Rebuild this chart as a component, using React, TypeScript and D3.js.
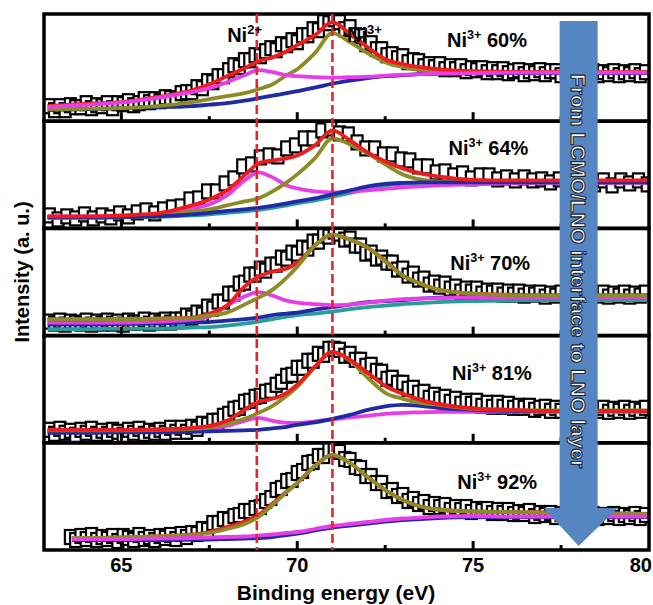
import React from "react";
import * as d3 from "d3";

// ---------- data ----------
const PANEL_LABELS = ["60%", "64%", "70%", "81%", "92%"];
const ENERGY_DOMAIN: [number, number] = [62.8, 80];
const INTENSITY_DOMAIN: [number, number] = [0, 107.2];
const MAJOR_TICKS = [65, 70, 75];
const MINOR_TICKS = [67.5, 72.5, 77.5];
const TICK_LABELS = ["65", "70", "75", "80"];
const TICK_LABEL_VALUES = [65, 70, 75, 80];
const PEAK_LINES = [68.85, 71.0];

// measured spectra (evenly sampled, start energy + step)
const DATA_START = [62.95, 62.95, 62.95, 62.95, 63.55];
const DATA_STEP = [0.15, 0.25, 0.15, 0.15, 0.15];

const P1_DATA = [15,11,15,11,16,14,14,18,13,16, 15,18,13,18,17,20,16,18,22,19, 22,20,24,23,21,28,29,29,34,33, 40,39,45,45,51,56,54,61,61,66, 65,70,73,71,77,76,81,79,86,86, 92,91,99,98,102,99,92,94,86,85, 77,78,72,72,66,67,63,65,59,61, 60,55,57,54,57,52,55,52,55,50, 53,51,53,49,52,49,52,48,50,51, 47,50,48,51,47,50,50,46,49,47, 50,46,49,50,46,49,47,50,46,49,47,50,46,49];
const P2_DATA = [13,9,12,10,14,10,13,11,15,12, 16,18,15,19,21,22,29,30,37,37, 45,50,62,64,71,73,72,80,83,90, 90,98,100,95,94,86,80,80,74,74, 69,68,62,62,56,57,53,55,50,53, 53,49,51,48,51,48,49,46,49,44, 48,49,44,48,43,48,45,48,44];
const P3_DATA = [14,12,15,11,14,13,12,15,11,14, 12,15,12,14,11,15,13,13,16,12, 15,13,16,13,16,16,20,18,23,21, 29,27,34,34,42,42,52,53,61,61, 67,65,71,71,78,77,83,82,88,87, 94,94,100,99,104,102,96,97,90,90, 82,83,77,78,73,73,66,67,60,62, 56,57,51,53,49,52,47,49,44,47, 44,47,42,45,43,45,41,44,41,44, 40,43,41,43,39,42,40,43,39,42, 40,43,39,42,40,43,39,42,40,43,39,42,40,43];
const P4_DATA = [13,9,14,10,12,8,13,10,14,9, 12,9,13,11,8,13,10,14,9,12, 10,13,10,15,11,15,11,16,14,19, 18,22,22,27,29,34,35,41,42,46, 47,51,52,58,61,67,68,75,75,82, 82,89,88,94,94,93,87,89,83,83, 77,78,72,71,64,65,60,60,54,55, 50,51,45,48,44,46,41,44,39,42, 39,42,37,40,36,40,36,39,35,37, 35,37,33,35,36,32,35,32,35,31, 34,35,31,34,32,35,31,34,32,35,31,34,32,35];
const P5_DATA = [13,10,14,11,15,10,13,11,14,9, 14,12,10,15,11,13,10,14,12,15, 11,16,13,17,16,21,20,27,27,31, 30,34,35,39,39,42,43,49,52,60, 62,69,70,77,79,87,88,94,94,100, 100,98,91,90,83,82,74,74,67,67, 59,60,54,55,49,51,46,48,43,46, 43,45,40,43,40,43,38,41,39,41, 37,40,37,40,36,38,36,39,34,37, 35,37,33,36,33,36,32,35,33,36, 32,35,33,36,32,35,33,36,32,35];

// fitted components
const FIT_E = [62.9, 64, 65, 66, 67, 67.5, 68, 68.5, 68.9, 69.3, 69.7, 70, 70.5, 71, 71.5, 72, 72.5, 73, 73.5, 74, 75, 76, 77, 78, 79, 80];
const FIT_E5 = [63.6, 64, 65, 66, 67, 67.5, 68, 68.5, 68.9, 69.3, 69.7, 70, 70.5, 71, 71.5, 72, 72.5, 73, 73.5, 74, 75, 76, 77, 78, 79, 80];

const RED1 = [15, 17.5, 19, 24, 31, 37, 45, 53, 60, 64, 70, 76, 86, 99, 87, 74, 62, 57, 54, 52, 50, 49.5, 49, 49, 49, 49];
const MAG1 = [14, 16.5, 18.5, 23, 29, 33, 39, 46, 51, 49, 46, 45, 44, 43.5, 44, 44.5, 45.5, 46.5, 47, 47.5, 48, 48.5, 48.5, 48.5, 48.5, 48.5];
const OLV1 = [12, 12.5, 13, 15, 19, 22, 25, 28, 32, 37, 46, 52, 68, 88, 79, 68, 59, 54, 51, 50, 49, 49, 49, 49, 49, 49];
const BLU1 = [11, 12, 13, 14, 15, 16.5, 18, 20.5, 23, 25.5, 28, 30, 33.5, 37.5, 40.5, 43, 45, 46, 47, 47.5, 48, 48, 48, 48, 48, 48];

const RED2 = [12, 12, 13, 15, 23, 29, 38, 53, 65, 68, 70, 73, 83, 98, 88, 76, 67, 60, 55, 52, 48.5, 48, 48, 48, 48, 48];
const MAG2 = [12, 12, 12.5, 13.5, 20, 24, 33, 48, 56, 51, 43, 40, 37, 36, 37, 38, 39.5, 41, 42, 43, 44, 45, 45.5, 45.5, 45.5, 45.5];
const OLV2 = [11, 11, 11.5, 12, 17, 19, 23, 27, 30, 37, 46, 54, 70, 90, 84, 75, 64, 54, 49, 47, 47, 47, 47, 47, 47, 47];
const BLU2 = [11, 11, 11.5, 12, 14, 15.5, 17.5, 19, 20.5, 22.5, 25, 27, 30, 34, 38, 42, 44.5, 45.5, 46, 46, 46, 46, 46, 46, 46, 46];
const TEA2 = [10.5, 10.5, 11, 11.5, 13, 14, 15.5, 17, 18.5, 20.5, 23, 25, 28, 31.5, 35.5, 39.5, 43, 44.5, 45.5, 45.5, 45.5, 45.5, 45.5, 45.5, 45.5, 45.5];

const RED3 = [16, 16, 16.5, 17, 18, 22, 30, 49, 59, 64, 67, 73, 90, 101, 96, 88, 75, 60, 52, 46, 42, 41, 40.5, 40.5, 40.5, 40.5];
const OLV3 = [16.5, 16.5, 16.5, 17, 17.5, 20, 23, 31, 38, 46, 58, 69, 90, 101, 96, 88, 74, 60, 52, 46, 42, 40.5, 40, 40, 40, 40];
const MAG3 = [13, 13, 13, 14, 16, 19, 30, 39, 43.5, 40, 35, 33, 31.5, 30.5, 31, 33, 35, 36.5, 37, 37.5, 38.5, 38.5, 38.5, 38.5, 38.5, 38.5];
const BLU3 = [11, 11, 11.5, 12, 13, 13.5, 15, 16.5, 18, 20.5, 22, 23, 26, 28.5, 31, 33.5, 34.5, 35.5, 37, 38, 38.5, 38.5, 38.5, 38.5, 38.5, 38.5];
const TEA3 = [6.5, 6.5, 7, 7, 8, 8.5, 10, 12, 14, 16.5, 19, 20.5, 22, 24, 26.5, 28.5, 30, 31.5, 32.5, 33.5, 34.5, 35, 35.5, 35.5, 35.5, 35.5];

const RED4 = [13, 13, 13, 13.5, 15, 17, 22, 33, 41, 44, 50, 58, 76, 91, 83, 70, 57, 49, 43, 39, 34.5, 33, 32, 32, 32, 32];
const OLV4 = [12.5, 12.5, 12.5, 13, 14, 15.5, 19, 24, 30, 37, 47, 56, 76, 91, 82, 65, 50, 44, 40, 38, 34, 33, 32.5, 32.5, 32.5, 32.5];
const MAG4 = [12, 12, 12, 12, 13, 14, 17, 22, 25, 22, 20, 20, 21.5, 23.5, 25.5, 27, 29, 30, 30.5, 31, 31, 31, 31, 31, 31, 31];
const BLU4 = [10, 10, 10.5, 10.5, 11, 11.5, 12, 12.5, 13, 14.5, 16, 18, 20.5, 24, 28, 33, 36.5, 38, 37, 35, 33, 32, 32, 32, 32, 32];

const RED5 = [12, 12, 12.5, 13.5, 15.5, 18, 23, 28.5, 35, 46.5, 58.5, 67, 84, 95, 87, 73, 60, 50, 43.5, 40.5, 38.5, 38, 37.5, 37, 36.5, 36];
const OLV5 = [12, 12, 12.5, 13.5, 15, 17, 21, 26, 33, 45, 58, 67, 84, 95, 87, 73, 60, 50, 43.5, 40.5, 38.5, 38, 37.5, 37, 36.5, 36];
const MAG5 = [11, 11, 11, 11.5, 12, 12.5, 13, 13.5, 14.5, 15.5, 17, 18, 21, 24, 26, 28, 30, 31.5, 32.5, 33.5, 34, 33.5, 33.5, 33.5, 33.5, 33.5];
const BLU5 = [10, 10, 10, 10, 10.5, 10.5, 11, 11.5, 12, 13, 15, 16.5, 19.5, 22.5, 24.5, 26.5, 28.5, 30, 31, 32, 33, 33, 33, 33, 33, 33];

// label anchors in data coordinates [energy, intensity]
const LABEL_AT: [number, number][] = [[74.26, 74], [74.3, 73], [74.35, 66], [74.4, 63], [74.55, 61]];

// ---------- style / layout ----------
const W = 653, H = 605;
const PL = 44, PR = 649, PT = 14, PB = 550;
const COLORS: Record<string, string> = {
  red: "#f01c1c",
  magenta: "#e83ee8",
  olive: "#8c8c26",
  blue: "#1f2aa3",
  teal: "#2a9c9c",
};
const FONT = "'Liberation Sans', Arial, Helvetica, sans-serif";
const MARK_W = 11, MARK_H = 14;

type Panel = {
  label: string;
  start: number;
  step: number;
  data: number[];
  fitE: number[];
  curves: Record<string, number[]>;
  order: string[];
  labelAt: [number, number];
};

const PANELS: Panel[] = [
  { label: PANEL_LABELS[0], start: DATA_START[0], step: DATA_STEP[0], data: P1_DATA, fitE: FIT_E,
    curves: { red: RED1, magenta: MAG1, olive: OLV1, blue: BLU1 }, order: ["blue", "olive", "red", "magenta"], labelAt: LABEL_AT[0] },
  { label: PANEL_LABELS[1], start: DATA_START[1], step: DATA_STEP[1], data: P2_DATA, fitE: FIT_E,
    curves: { red: RED2, magenta: MAG2, olive: OLV2, blue: BLU2, teal: TEA2 }, order: ["teal", "magenta", "olive", "blue", "red"], labelAt: LABEL_AT[1] },
  { label: PANEL_LABELS[2], start: DATA_START[2], step: DATA_STEP[2], data: P3_DATA, fitE: FIT_E,
    curves: { red: RED3, magenta: MAG3, olive: OLV3, blue: BLU3, teal: TEA3 }, order: ["teal", "blue", "magenta", "red", "olive"], labelAt: LABEL_AT[2] },
  { label: PANEL_LABELS[3], start: DATA_START[3], step: DATA_STEP[3], data: P4_DATA, fitE: FIT_E,
    curves: { red: RED4, magenta: MAG4, olive: OLV4, blue: BLU4 }, order: ["magenta", "blue", "olive", "red"], labelAt: LABEL_AT[3] },
  { label: PANEL_LABELS[4], start: DATA_START[4], step: DATA_STEP[4], data: P5_DATA, fitE: FIT_E5,
    curves: { red: RED5, magenta: MAG5, olive: OLV5, blue: BLU5 }, order: ["blue", "red", "olive", "magenta"], labelAt: LABEL_AT[4] },
];

export default function App() {
  const x = d3.scaleLinear().domain(ENERGY_DOMAIN).range([PL, PR]);
  const ph = (PB - PT) / PANELS.length;
  const arrowX = x(78);

  return (
    <svg width={W} height={H} viewBox={`0 0 ${W} ${H}`}
      style={{ position: "absolute", left: 0, top: 0, background: "#fff" }}
      fontFamily={FONT} fontWeight="bold">
      <rect x={0} y={0} width={W} height={H} fill="#fff" />
      <defs>
        {PANELS.map((_, i) => (
          <clipPath id={`clip${i}`} key={i}>
            <rect x={PL} y={PT + i * ph} width={PR - PL} height={ph} />
          </clipPath>
        ))}
      </defs>

      {PANELS.map((p, i) => {
        const top = PT + i * ph;
        const y = d3.scaleLinear().domain(INTENSITY_DOMAIN).range([top + ph, top]);
        const line = d3.line<number>()
          .x((_, k) => x(p.fitE[k]))
          .y((d) => y(d))
          .curve(d3.curveMonotoneX);
        return (
          <g key={i}>
            <g clipPath={`url(#clip${i})`}>
              {p.data.map((v, j) => {
                const e = p.start + j * p.step;
                return (
                  <rect key={j} x={x(e) - MARK_W / 2} y={y(v) - MARK_H / 2} width={MARK_W} height={MARK_H}
                    fill="#fff" stroke="#000" strokeWidth={2.2} />
                );
              })}
              {p.order.map((k) => (
                <path key={k} d={line(p.curves[k]) || ""} fill="none"
                  stroke={COLORS[k]} strokeWidth={3.8} strokeLinejoin="round" />
              ))}
            </g>
            <rect x={PL} y={top} width={PR - PL} height={ph} fill="none" stroke="#000" strokeWidth={3.5} />
            {MAJOR_TICKS.map((t) => (
              <line key={`M${t}`} x1={x(t)} x2={x(t)} y1={top + ph} y2={top + ph - 9} stroke="#000" strokeWidth={3} />
            ))}
            {MINOR_TICKS.map((t) => (
              <line key={`m${t}`} x1={x(t)} x2={x(t)} y1={top + ph} y2={top + ph - 5} stroke="#000" strokeWidth={3} />
            ))}
            <text x={x(p.labelAt[0])} y={y(p.labelAt[1])} fontSize={20} fill="#000">
              Ni<tspan fontSize={12.5} dy={-8}>3+</tspan><tspan dy={8}>{" " + p.label}</tspan>
            </text>
          </g>
        );
      })}

      {PEAK_LINES.map((e) => (
        <line key={e} x1={x(e)} x2={x(e)} y1={PT} y2={PB} stroke="#e8242a" strokeWidth={2.6} strokeDasharray="9 4" />
      ))}

      <text x={262} y={42} fontSize={20} textAnchor="end" fill="#000">
        Ni<tspan fontSize={13} dy={-8}>2+</tspan>
      </text>
      <text x={347} y={42} fontSize={20} fill="#000">
        Ni<tspan fontSize={13} dy={-8}>3+</tspan>
      </text>

      {/* arrow */}
      <path d={`M${arrowX - 19},21 H${arrowX + 19} V508 H${arrowX + 39} L${arrowX},546 L${arrowX - 35},508 H${arrowX - 19} Z`}
        fill="#5686c2" />
      <text transform={`translate(${arrowX},271) rotate(90)`} textAnchor="middle" dominantBaseline="central"
        fontSize={21} fill="#fff" stroke="#1c2536" strokeWidth={1.1}>
        From LCMO/LNO interface to LNO layer
      </text>

      {TICK_LABEL_VALUES.map((v, i) => (
        <text key={v} x={i === TICK_LABEL_VALUES.length - 1 ? x(v) + 3 : x(v)} y={572}
          textAnchor={i === TICK_LABEL_VALUES.length - 1 ? "end" : "middle"} fontSize={20} fill="#000">
          {TICK_LABELS[i]}
        </text>
      ))}
      <text x={336} y={600} textAnchor="middle" fontSize={21} fill="#000">Binding energy (eV)</text>
      <text transform="translate(29,272) rotate(-90)" textAnchor="middle" fontSize={20} fill="#000">Intensity (a. u.)</text>
    </svg>
  );
}
